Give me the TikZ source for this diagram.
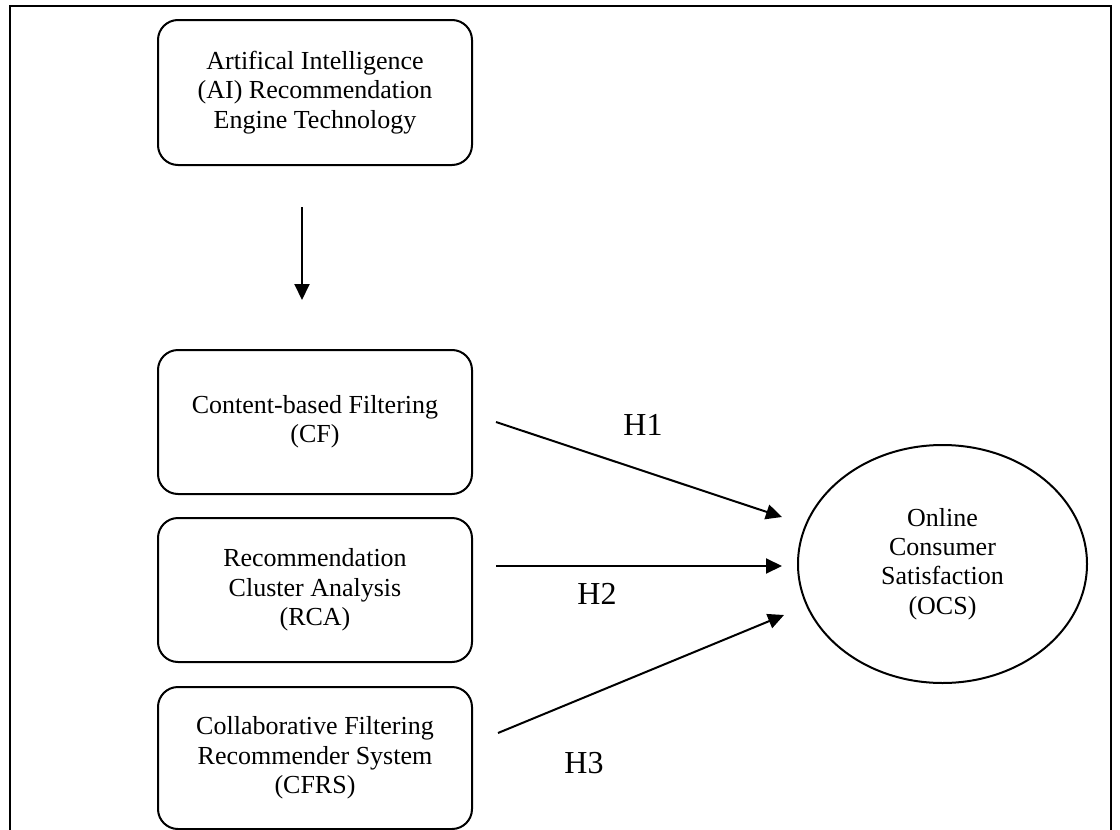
\documentclass[tikz,border=0pt]{standalone}
\usepackage{fontspec}
\setmainfont{Liberation Serif}
\usetikzlibrary{arrows.meta,calc,shapes.geometric}
\begin{document}
\begin{tikzpicture}[x=0.5pt,y=-0.5pt,
  boxtxt/.style={font=\fontsize{13}{14.7}\selectfont},
  box/.style={boxtxt,draw,line width=1pt,rounded corners=10pt,minimum width=157pt,minimum height=72pt,align=center,inner sep=0pt},
  oval/.style={boxtxt,draw,ellipse,line width=1pt,minimum width=144.5pt,minimum height=119pt,inner sep=0pt,align=center},
  arr/.style={line width=1pt,-{Triangle[length=8pt,width=7.5pt]}},
  hlabel/.style={font=\fontsize{16}{18}\selectfont,inner sep=0pt},
  frame/.style={line width=1pt}]
\useasboundingbox (0,0) rectangle (1120,830);
\draw[frame] (10,830) -- (10,6) -- (1111,6) -- (1111,830);

\node[box,minimum height=72.5pt] (ai) at (315,92.5) {Artifical Intelligence\\(AI) Recommendation\\Engine Technology};
\node[box] (cf) at (315,422) {Content-based Filtering\\(CF)};
\node[box] (rca) at (315,590) {Recommendation\\Cluster Analysis\\(RCA)};
\node[box,minimum height=71pt] (cfrs) at (315,758) {Collaborative Filtering\\Recommender System\\(CFRS)};
\node[oval] (ocs) at (942.5,564) {Online\\Consumer\\Satisfaction\\(OCS)};

\draw[arr] ($(ai.south)+(-13,41)$) -- ($(cf.north)+(-13,-49)$);
\draw[arr] ($(cf.east)+(23,0)$) -- ($(ocs.west)+(-15,-47)$);
\draw[arr] ($(rca.east)+(23,-24)$) -- ($(ocs.west)+(-15,2)$);
\draw[arr] ($(cfrs.east)+(25,-25)$) -- ($(ocs.west)+(-13,51)$);

\node[hlabel] (h1) at (643,425) {H1};
\node[hlabel] (h2) at (597,594) {H2};
\node[hlabel] (h3) at (584,763) {H3};
\end{tikzpicture}
\end{document}
